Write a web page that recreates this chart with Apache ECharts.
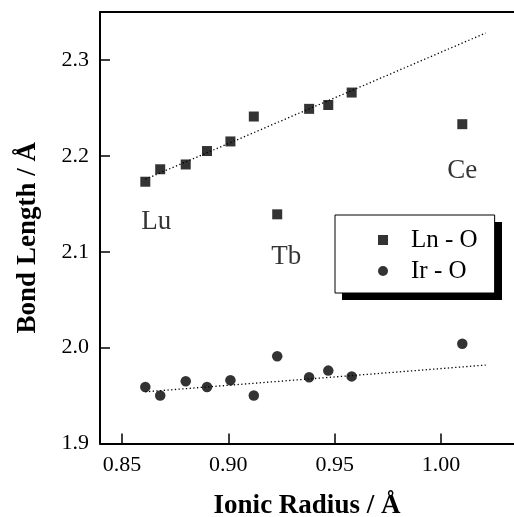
<!DOCTYPE html>
<html><head><meta charset="utf-8">
<script src="https://cdn.jsdelivr.net/npm/echarts@6/dist/echarts.min.js"></script>
<style>html,body{margin:0;padding:0;background:#fff}#c{width:514px;height:517px}</style>
</head><body><div id="c"></div>
<script>
// ---- data ----
const ionicRadius = [0.861, 0.868, 0.880, 0.890, 0.901, 0.912, 0.923, 0.938, 0.947, 0.958, 1.010];
const elements    = ['Lu', 'Yb', 'Tm', 'Er', 'Ho', 'Dy', 'Tb', 'Gd', 'Eu', 'Sm', 'Ce'];
const lnO         = [2.173, 2.186, 2.191, 2.205, 2.215, 2.241, 2.139, 2.249, 2.253, 2.266, 2.233];
const irO         = [1.959, 1.950, 1.965, 1.959, 1.966, 1.950, 1.991, 1.969, 1.976, 1.970, 2.004];
const labelledElements = ['Lu', 'Tb', 'Ce'];
const fitX   = [0.861, 1.021];
const lnOFit = [2.1756, 2.3281];
const irOFit = [1.9539, 1.9818];
const xTicks = [0.85, 0.90, 0.95, 1.00];
const yTicks = [1.9, 2.0, 2.1, 2.2, 2.3];
const seriesNames = ['Ln - O', 'Ir - O'];

// ---- presentation ----
const FONT = 'Liberation Serif';
const labelOffsets = { Lu: [11, 40], Tb: [9, 43], Ce: [0, 47] };
const squareIcon = 'path://M0,0h10v10h-10z';
const legendBox = { left: 335, top: 215, width: 160, height: 78, shadow: 7 };

const chart = echarts.init(document.getElementById('c'), null, { renderer: 'canvas' });

const lnData = ionicRadius.map((x, i) => {
  const el = elements[i];
  const item = { value: [x, lnO[i]] };
  if (labelledElements.includes(el)) {
    item.label = {
      show: true, formatter: el, position: 'inside', offset: labelOffsets[el],
      color: '#000', fontFamily: FONT, fontSize: 27
    };
  }
  return item;
});
const irData = ionicRadius.map((x, i) => [x, irO[i]]);

const axisCommon = {
  type: 'value',
  splitLine: { show: false },
  axisLine: { show: true, onZero: false, lineStyle: { color: '#000', width: 2 } }
};

chart.setOption({
  animation: false,
  backgroundColor: '#fff',
  grid: { left: 100, right: 0, top: 12, bottom: 73.5, containLabel: false, outerBoundsMode: 'none' },
  xAxis: [
    Object.assign({}, axisCommon, {
      min: 0.8397, max: 1.0343,
      name: 'Ionic Radius / Å', nameLocation: 'middle', nameGap: 49,
      nameTextStyle: { fontFamily: FONT, fontSize: 27, fontWeight: 'bold', color: '#000' },
      axisTick: { show: true, inside: true, length: 10, customValues: xTicks, lineStyle: { color: '#000', width: 1.5 } },
      axisLabel: { customValues: xTicks, formatter: v => v.toFixed(2), margin: 11,
                   fontFamily: FONT, fontSize: 22, color: '#000' }
    }),
    Object.assign({}, axisCommon, {
      position: 'top', min: 0.8397, max: 1.0343,
      axisTick: { show: false }, axisLabel: { show: false }
    })
  ],
  yAxis: Object.assign({}, axisCommon, {
    min: 1.9, max: 2.35,
    name: 'Bond Length / Å', nameLocation: 'middle', nameGap: 58,
    nameTextStyle: { fontFamily: FONT, fontSize: 27, fontWeight: 'bold', color: '#000', padding: [0, 20, 0, 0] },
    axisTick: { show: true, inside: true, length: 10, customValues: yTicks, lineStyle: { color: '#000', width: 1.5 } },
    axisLabel: { customValues: yTicks, formatter: v => v.toFixed(1), margin: 11,
                 fontFamily: FONT, fontSize: 22, color: '#000' }
  }),
  legend: {
    z: 10,
    orient: 'vertical', left: legendBox.left, top: legendBox.top,
    data: [{ name: seriesNames[0], icon: squareIcon }, { name: seriesNames[1], icon: 'circle' }],
    itemWidth: 46, itemHeight: 10, itemGap: 6,
    padding: [12.5, 17, 9.5, 43],
    backgroundColor: '#fff', borderColor: '#000', borderWidth: 1,
    textStyle: { fontFamily: FONT, fontSize: 25, lineHeight: 25, color: '#000' },
    selectedMode: false
  },
  graphic: [{
    type: 'rect', z: 1, silent: true,
    shape: { x: legendBox.left + legendBox.shadow, y: legendBox.top + legendBox.shadow,
             width: legendBox.width, height: legendBox.height },
    style: { fill: '#000' }
  }],
  series: [
    {
      name: 'Ln - O fit', type: 'line', symbol: 'none', silent: true,
      data: fitX.map((x, i) => [x, lnOFit[i]]),
      lineStyle: { color: '#000', width: 1.3, type: [1.3, 2.4] }
    },
    {
      name: 'Ir - O fit', type: 'line', symbol: 'none', silent: true,
      data: fitX.map((x, i) => [x, irOFit[i]]),
      lineStyle: { color: '#000', width: 1.3, type: [1.3, 2.4] }
    },
    {
      name: seriesNames[0], type: 'scatter', symbol: 'rect', symbolSize: 10,
      itemStyle: { color: '#000' }, data: lnData
    },
    {
      name: seriesNames[1], type: 'scatter', symbol: 'circle', symbolSize: 10.5,
      itemStyle: { color: '#000' }, data: irData
    }
  ]
});
</script>
</body></html>
